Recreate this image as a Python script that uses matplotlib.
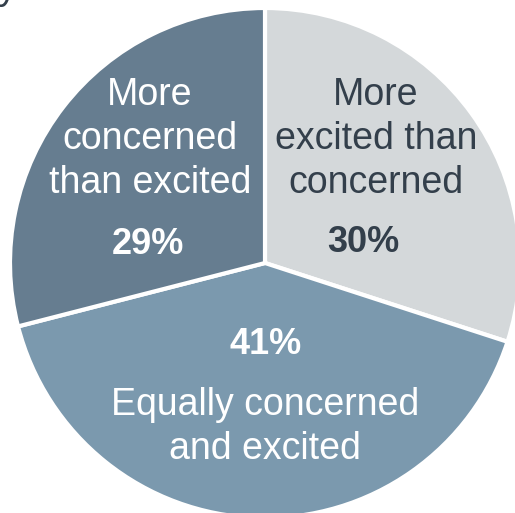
import matplotlib
matplotlib.use('Agg')
import matplotlib.pyplot as plt

# Slices, clockwise from 12 o'clock
categories = ['More\nexcited than\nconcerned', 'Equally concerned\nand excited', 'More\nconcerned\nthan excited']
shares = [30, 41, 29]
colors = ['#D4D8DA', '#7B99AE', '#667D90']
text_colors = ['#333F4B', 'white', 'white']

plt.rcParams['font.family'] = ['Liberation Sans', 'DejaVu Sans']

W, H = 515, 513
fig = plt.figure(figsize=(W / 100, H / 100), dpi=100)
ax = fig.add_axes([0, 0, 1, 1])

cx, cy, r = 265, 250, 255
ax.pie(shares, colors=colors, startangle=90, counterclock=False,
       center=(cx, cy), radius=r, frame=True,
       wedgeprops=dict(edgecolor='white', linewidth=3))
ax.set_xlim(0, W)
ax.set_ylim(0, H)
ax.set_aspect('equal')
ax.axis('off')

# label layout (pixel offsets from the top of the image)
name_pos = [(376, 139), (265, 427), (150, 139)]
pct_pos = [(363, 243), (266, 344), (148, 245)]

for i, name in enumerate(categories):
    nx, ny = name_pos[i]
    px, py = pct_pos[i]
    ax.text(nx, H - ny, name, ha='center', va='center', fontsize=27,
            color=text_colors[i], linespacing=1.3)
    ax.text(px, H - py, f'{shares[i]}%', ha='center', va='center', fontsize=26,
            fontweight='bold', color=text_colors[i])

# cut-off heading fragment at the very top
ax.text(-2, H + 1, 'ys are', ha='left', va='baseline', fontsize=27, color='#333F4B',
        clip_on=False)

fig.savefig('out.png', dpi=100, facecolor='white')
